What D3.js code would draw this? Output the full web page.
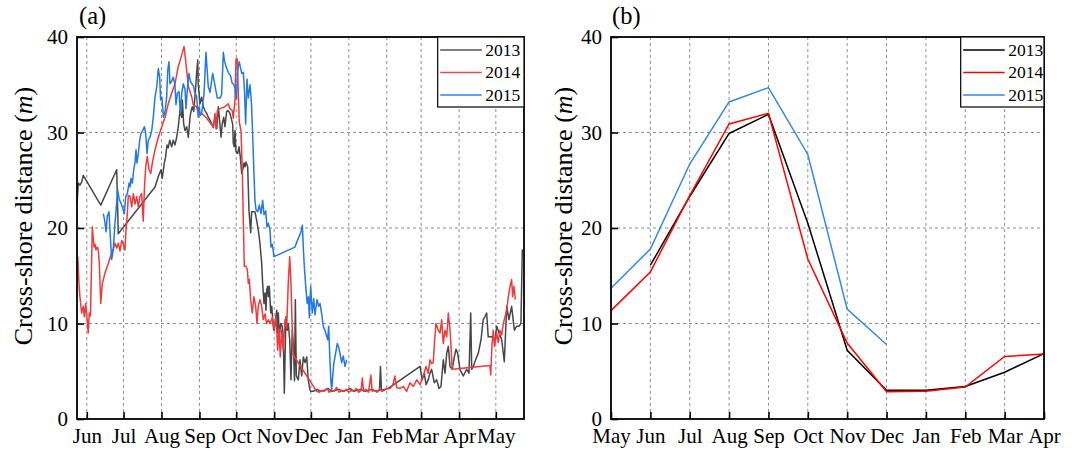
<!DOCTYPE html>
<html>
<head>
<meta charset="utf-8">
<script src="https://cdn.jsdelivr.net/npm/d3@7"></script>
<style>
  body { margin: 0; background: #fff; }
  svg text { font-family: "Liberation Serif", "Times New Roman", "DejaVu Serif", serif; fill: #000; }
</style>
</head>
<body>
<svg id="chart" width="1079" height="451"></svg>
<script>
// ---------- Panel (a): daily cross-shore distance, day counted from 24 May ----------
const seasonStart = Date.UTC(2013, 4, 24);
const seasonEnd = Date.UTC(2014, 4, 24);
const monthTicksA = [
  Date.UTC(2013, 5, 1), Date.UTC(2013, 6, 1), Date.UTC(2013, 7, 1), Date.UTC(2013, 8, 1),
  Date.UTC(2013, 9, 1), Date.UTC(2013, 10, 1), Date.UTC(2013, 11, 1), Date.UTC(2014, 0, 1),
  Date.UTC(2014, 1, 1), Date.UTC(2014, 2, 1), Date.UTC(2014, 3, 1), Date.UTC(2014, 4, 1)
];
const monthLabelsA = ["Jun", "Jul", "Aug", "Sep", "Oct", "Nov", "Dec", "Jan", "Feb", "Mar", "Apr", "May"];
const yTicks = [0, 10, 20, 30, 40];

const daily2013 = [
  [0,22.6],[1.1,24.7],[2.4,24.5],[3.8,24.8],[5.1,25.5],[19.4,22.4],[32.4,26.1],[33.7,19.4],
  [63.7,24.3],[66.4,25.4],[68.6,26.1],[69.6,25.2],[71.3,26.8],[72.4,27.5],[73.5,28.7],[74.5,28.4],
  [75.7,29.2],[77.3,28.5],[78.6,29.2],[80,28.7],[81.4,29.5],[82.7,30.6],[84.1,32.3],[85.5,31.6],
  [86,33.4],[87.1,30.9],[88.2,30.2],[89.6,30.6],[90.9,29.5],[92.3,31.6],[93.1,32.2],[94.1,32.7],
  [95.3,32.2],[96.3,33.7],[97.7,36.2],[98.6,37.6],[99,35.1],[100.4,33],[101.8,33.7],[103.1,32.7],
  [104.5,32.3],[105.9,32],[107.2,31.6],[108.6,31.3],[110,30.9],[111.3,30.6],[112.7,31.6],[114.1,30.4],
  [115.4,32.7],[116.2,31.6],[117.6,29.5],[118.6,30.9],[119.8,31.6],[120.8,30.6],[122.2,32.2],[123.5,32.3],
  [124.9,32],[127.1,30.9],[127.6,28.9],[128.4,28.5],[129,30.2],[129.8,28],[131.2,27.8],[132.3,28.5],
  [133.3,27.5],[134.5,25.7],[135.3,26.1],[136.4,26.8],[137.2,26.4],[138,26.9],[139.4,26.4],[140.4,21.9],
  [141.8,19.5],[142.6,21.7],[143.9,21.7],[145.3,21.7],[146.7,20.8],[148,19.8],[149.4,18.4],[150.8,16.3],
  [151.6,14.2],[152.7,12.1],[153.5,13.2],[154.3,11.4],[154.9,13.5],[155.7,13.9],[156.2,12.8],[157,13.9],
  [158.2,11.1],[159,11.8],[159.8,10.4],[160.6,9.3],[161.7,10],[163.1,11.4],[163.9,9],[164.4,11.1],
  [165.2,8.6],[166.3,10],[167.4,9.8],[168.4,8.6],[169.3,2.7],[169.8,5.9],[170.6,10.7],[171.7,9.3],
  [172.5,10],[173.7,8.3],[174.7,4.1],[175.8,9.3],[176.9,7.2],[177.6,4],[178.3,12.5],[179.1,4.5],
  [180.7,4.1],[182.1,6.2],[183.5,4.5],[184.8,6.5],[186.2,5.9],[187.6,6.5],[188.8,4.1],[190.2,3.1],
  [190.8,2.9],[193,2.9],[196,3.1],[199,2.9],[202,3],[205,3.2],[208,2.9],[211,3],[214,3.1],[217,2.9],
  [220,3],[223,3.2],[226,2.9],[229,3],[232,3.1],[235,2.9],[238,3],[241,3.1],[244,2.9],[247,3],
  [247.8,5.5],[248.6,3],[251,3.1],[254.2,3.2],[280.1,5.5],[281.9,4.1],[283.6,4.8],[285,3.6],
  [286.8,4.1],[288.2,4.8],[289.6,5.2],[291.7,3.8],[293.7,4.1],[295.6,3.2],[297.2,3.4],[299.1,6.2],
  [300.5,4.8],[301.9,6.9],[303.2,7.6],[304.6,5.5],[306.4,5.2],[308.1,6.5],[309.5,7.3],[310.8,6.9],
  [312.7,5.2],[315.4,4.5],[318.2,5.2],[320.1,4.8],[321.5,11.1],[322.3,5.2],[323.6,5.5],[325.5,6.2],
  [327.7,6.9],[329.9,8.3],[331.7,10.4],[333.1,10.7],[334.5,11.1],[335.8,8.6],[338.6,8.6],[341.3,8.3],
  [342.7,9.7],[344.6,9],[346.8,8.3],[348.9,6],[350.9,11.8],[352.7,10.4],[354.9,11.8],[357.1,9.3],
  [359,9.7],[360.9,9.7],[362.5,10],[363.6,17.7],[364.2,17.7]
];

const daily2014 = [
  [0.6,17],[1.6,14.2],[2.4,12.8],[3.8,11.1],[5.1,11.8],[6,10.7],[7.1,12.1],[8.2,10.5],[9.2,9],
  [10,11.1],[11,10.8],[12.5,20.1],[13.9,18],[14.7,18.3],[15.5,17.7],[16.6,18],[17.4,17.7],[18.2,16.3],
  [19.4,12.1],[20.7,14.2],[22.9,15.3],[25.6,16.3],[28.3,17.4],[29.6,17.8],[31,18.4],[32.4,17.9],
  [33.7,18.4],[35.1,17.6],[36.5,18.7],[37.8,18.3],[39.2,17.7],[40,19.8],[41.1,21.5],[41.9,23.4],
  [43.3,23.3],[44.7,22.2],[46,23.6],[47.4,22.5],[48.7,23.3],[50.1,22.2],[51.4,23.3],[52.8,23.6],
  [54.1,20.7],[55,24],[56.1,26.4],[57.4,27.5],[58.8,26.1],[60.2,25.7],[61.5,26.8],[63.7,28.2],
  [66.4,29.5],[69.2,30.6],[71.9,31.6],[74.5,33],[77.3,34.1],[80,35.1],[82.7,36.9],[85.5,38.1],
  [87.4,39],[89,37.2],[90.9,34.8],[92,34.4],[93.7,33.7],[95,32.9],[97.7,32.7],[99,32],[101.8,32],
  [105.9,31.5],[110,30.8],[111.3,30.5],[112.7,32],[113.5,30.4],[114.6,32.3],[116.8,32.5],[120.8,32.7],
  [123.5,33],[124.9,32.5],[126.8,32.3],[127.6,31.5],[129,33.4],[129.8,37.7],[130.9,37.7],[131.7,34.1],
  [132.5,31.1],[133.9,30.2],[135,26.1],[135.8,20.8],[136.6,16],[138,16],[139.1,15.6],[139.9,14.2],
  [140.7,14.6],[141.8,12.5],[143.1,11.1],[144.5,12.8],[145.9,11.8],[147,10],[148,11.8],[149.4,12.5],
  [150.8,11.8],[152.1,10.4],[153.5,11],[154.9,10],[156.2,10.4],[157.6,10],[159.5,10.6],[161.1,9.3],
  [162.5,10.7],[163.9,7.2],[164.9,9.5],[166,6.5],[167.1,9.3],[168.4,7.2],[169.8,10.4],[171.2,9.5],
  [172.5,14.2],[173.7,17],[174.7,14.2],[175.8,9.3],[176.6,6.7],[195.7,2.9],[198,2.8],[200,3],
  [202,2.9],[204,3.2],[206,2.8],[208,3],[210,2.9],[212,3.3],[214,2.8],[216,3],[218,2.9],[220,3.1],
  [222,2.8],[224,3],[226,2.9],[228,3.2],[230,2.8],[232,3],[233,4.3],[234,2.9],[236,3.1],[238,2.8],
  [240,4.6],[241,2.9],[243,3],[245,2.8],[247,3.1],[249,2.9],[251,3],[253,3.2],[255.6,3.2],[258,3.6],
  [259.6,4.5],[261,3.3],[263.7,3.2],[266.4,3.4],[269.2,2.9],[271.9,3.8],[274.6,3.4],[277.4,4.1],
  [280.1,3.6],[282.8,4.5],[285,5.5],[286.8,4.8],[288.2,6.2],[289.6,5.8],[290.9,5.9],[291.9,8],
  [293.1,10],[294.2,9.6],[295,9.3],[296.4,9],[297.8,10.4],[299.1,7.9],[300.5,9.3],[301.9,8.6],
  [303.2,11.1],[304.6,9.3],[305.1,8.3],[306.4,5.2],[337.2,5.6],[337.8,4.6],[338.8,7.6],[339.9,9.3],
  [340.9,7.6],[342.7,9],[344,8],[345.4,9.3],[346.8,8.8],[348.1,10],[349.5,10.7],[350.9,11.4],
  [352.2,12.8],[353.6,13.9],[354.9,14.6],[355.7,12.8],[356.8,13.9],[357.9,12.5]
];

const daily2015 = [
  [21.5,21.5],[22.6,20.8],[23.7,19.6],[24.7,21.2],[26.1,21.7],[26.9,19.8],[28.3,16.7],[29.6,17.7],
  [31,20.5],[32.4,22.6],[33.2,24],[34.5,23],[35.9,22.6],[37.3,22.1],[38.6,21.5],[39.8,23.3],
  [41.1,23.6],[42.5,24.7],[43.3,24.3],[44.1,25.2],[45.2,24.7],[46.3,26.1],[47.4,26.9],[48.2,28.2],
  [49,26.8],[50.1,27.8],[51.2,29.2],[52.3,29.9],[53.6,30.2],[55,30.6],[56.1,29.9],[57.2,27.8],
  [58.2,29.2],[59.6,29.5],[61,30.2],[62.3,31.6],[63.7,33.7],[65.1,34.8],[66.4,36.7],[67.5,35.8],
  [68.3,33.4],[69.4,33.7],[70.5,31.6],[71.9,32.2],[73.2,33.7],[74.1,36.5],[75.1,37.4],[75.9,35.1],
  [77.3,35.4],[78.6,35.8],[80,35],[80.8,32.9],[81.9,34.1],[83.3,34.3],[84.3,32],[85.5,34.1],
  [86.8,35.1],[88.2,34.5],[89,32.5],[90.1,34.5],[91.4,36.2],[92.5,35.4],[93.7,35.1],[95,34.9],
  [96.3,34.1],[97.7,33.8],[99,31.6],[99.8,32.7],[100.7,31.8],[101.8,32],[102.9,33.3],[103.7,34],
  [105.3,38.4],[107.2,34.8],[108.6,34.2],[110.8,36.2],[112.1,35.3],[113.1,34.6],[114.6,33.6],
  [116.8,33.6],[118.1,34],[119.5,38.4],[120.4,37.5],[121.7,36.9],[123.5,36.3],[125.5,35.9],
  [126.6,35.2],[127.6,35.1],[129,34.7],[130.2,33.5],[131.2,36.6],[132.5,37.4],[134.5,36.2],
  [135.8,36.3],[136.7,34.5],[137.7,30.9],[138.8,35.6],[139.9,33.6],[141.3,35],[142.5,33],
  [143.5,29.5],[144.5,25.7],[145.3,22.9],[146.2,21.9],[147.5,21.7],[148.9,22.4],[150.2,21.5],
  [151.6,22.9],[152.7,21.4],[154.1,21.8],[155.1,20.1],[156.2,20.5],[157.6,19.8],[158.4,18],
  [159.5,18.3],[160.8,17],[178,18],[179.7,18.6],[181.3,19.1],[182.9,19.6],[184,20.3],[184.8,18],
  [185.6,16],[187,13.5],[188,12.1],[189,12.8],[189.7,10.6],[190.8,13.9],[192.1,11.1],[193.3,12.6],
  [194.3,10.9],[196,12.5],[197.3,11.8],[198.4,12.1],[199.8,11],[201.1,9.7],[202.7,9.2],[204.7,8.3],
  [205.5,9.7],[206.6,5.9],[207.4,3.8],[208,3.1],[208.8,4.5],[209.8,5.9],[211.2,6.9],[212.5,7.9],
  [213.5,7.6],[214.7,6.9],[216.1,5.9],[217.4,6.6],[218.8,5.5],[220.2,6.2]
];

// ---------- Panel (b): monthly mean cross-shore distance ----------
const monthsB = ["May", "Jun", "Jul", "Aug", "Sep", "Oct", "Nov", "Dec", "Jan", "Feb", "Mar", "Apr"];
const monthly2013 = [null, 16.1, 23.3, 29.9, 31.9, 20.5, 7.2, 3.0, 3.0, 3.4, 4.9, 6.85];
const monthly2014 = [11.35, 15.4, 23.4, 30.9, 32.0, 16.75, 7.95, 2.85, 2.9, 3.35, 6.55, 6.8];
const monthly2015 = [13.7, 17.8, 26.7, 33.2, 34.7, 27.7, 11.5, 7.8, null, null, null, null];

const seriesNames = ["2013", "2014", "2015"];
const colorsA = ["#474747", "#f0393c", "#2478e2"];
const colorsB = ["#000000", "#ff0000", "#3586e6"];

const svg = d3.select("#chart");
const gridColor = "#8f8f8f";
const panel = { top: 37, bottom: 419 };
const boxA = { left: 77, right: 524 };
const boxB = { left: 611, right: 1044 };
const serif = "Liberation Serif, Times New Roman, DejaVu Serif, serif";

function frame(g, box) {
  g.append("rect")
    .attr("x", box.left).attr("y", panel.top)
    .attr("width", box.right - box.left).attr("height", panel.bottom - panel.top)
    .attr("fill", "none").attr("stroke", "#000").attr("stroke-width", 1.8);
}

function yAxisAndGrid(g, box, y) {
  // dashed horizontal grid
  g.append("g").selectAll("line").data(yTicks.filter(t => t > 0 && t < 40)).join("line")
    .attr("x1", box.left).attr("x2", box.right)
    .attr("y1", d => y(d)).attr("y2", d => y(d))
    .attr("stroke", gridColor).attr("stroke-width", 1).attr("stroke-dasharray", "3,3");
  const ax = g.append("g").attr("transform", `translate(${box.left},0)`)
    .call(d3.axisLeft(y).tickValues(yTicks).tickSize(-7).tickPadding(9).tickFormat(d3.format("d")));
  ax.select(".domain").remove();
  ax.selectAll(".tick line").attr("stroke", "#000").attr("stroke-width", 1.6);
  ax.selectAll("text").attr("font-size", 21).attr("font-family", serif).attr("fill", "#000");
}

function yTitle(g, x) {
  const t = g.append("text")
    .attr("transform", `translate(${x},216) rotate(-90)`)
    .attr("text-anchor", "middle").attr("font-size", 26);
  t.append("tspan").text("Cross-shore distance (");
  t.append("tspan").attr("font-style", "italic").text("m");
  t.append("tspan").text(")");
}

function legend(g, x0, x1, colors) {
  const lg = g.append("g");
  lg.append("rect").attr("x", x0).attr("y", panel.top).attr("width", x1 - x0).attr("height", 70)
    .attr("fill", "#fff").attr("stroke", "#000").attr("stroke-width", 1.2);
  seriesNames.forEach((n, i) => {
    const cy = 50 + i * 22.5;
    lg.append("line").attr("x1", x0 + 2.5).attr("x2", x0 + 44).attr("y1", cy).attr("y2", cy)
      .attr("stroke", colors[i]).attr("stroke-width", 1.6);
    lg.append("text").attr("x", x0 + 47.5).attr("y", cy).attr("dy", "0.34em")
      .attr("font-size", 17.5).text(n);
  });
}

// ---------- Panel (a) ----------
const gA = svg.append("g");
const xA = d3.scaleUtc().domain([seasonStart, seasonEnd]).range([boxA.left, boxA.right]);
const yA = d3.scaleLinear().domain([0, 40]).range([panel.bottom, panel.top]);
const dayToDate = d => new Date(seasonStart + d * 864e5);

gA.append("g").selectAll("line").data(monthTicksA).join("line")
  .attr("x1", d => xA(d)).attr("x2", d => xA(d))
  .attr("y1", panel.top).attr("y2", panel.bottom)
  .attr("stroke", gridColor).attr("stroke-width", 1).attr("stroke-dasharray", "3,3");
yAxisAndGrid(gA, boxA, yA);

const axA = gA.append("g").attr("transform", `translate(0,${panel.bottom})`)
  .call(d3.axisBottom(xA).tickValues(monthTicksA.map(t => new Date(t)))
    .tickSize(-7).tickPadding(9).tickFormat((d, i) => monthLabelsA[i]));
axA.select(".domain").remove();
axA.selectAll(".tick line").attr("stroke", "#000").attr("stroke-width", 1.6);
axA.selectAll("text").attr("font-size", 21).attr("font-family", serif)
  .attr("fill", (d, i) => i === 0 ? "#7a7a7a" : "#000");

const lineA = d3.line().x(d => xA(dayToDate(d[0]))).y(d => yA(d[1]));
[daily2013, daily2014, daily2015].forEach((s, i) => {
  gA.append("path").datum(s).attr("d", lineA)
    .attr("fill", "none").attr("stroke", colorsA[i]).attr("stroke-width", 1.5)
    .attr("stroke-linejoin", "round");
});
frame(gA, boxA);
legend(gA, 437.7, boxA.right, ["#555555", "#f44848", "#2e82e8"]);
yTitle(gA, 32);
gA.append("text").attr("x", 79).attr("y", 24).attr("font-size", 24.5).text("(a)");

// ---------- Panel (b) ----------
const gB = svg.append("g");
const xB = d3.scalePoint().domain(monthsB).range([boxB.left, boxB.right]).padding(0);
const yB = d3.scaleLinear().domain([0, 40]).range([panel.bottom, panel.top]);

gB.append("g").selectAll("line").data(monthsB.slice(1, -1)).join("line")
  .attr("x1", d => xB(d)).attr("x2", d => xB(d))
  .attr("y1", panel.top).attr("y2", panel.bottom)
  .attr("stroke", gridColor).attr("stroke-width", 1).attr("stroke-dasharray", "3,3");
yAxisAndGrid(gB, boxB, yB);

const axB = gB.append("g").attr("transform", `translate(0,${panel.bottom})`)
  .call(d3.axisBottom(xB).tickSize(-7).tickPadding(9));
axB.select(".domain").remove();
axB.selectAll(".tick line").attr("stroke", "#000").attr("stroke-width", 1.6);
axB.selectAll("text").attr("font-size", 21).attr("font-family", serif).attr("fill", "#000");

const lineB = d3.line().defined(d => d.v != null).x(d => xB(d.m)).y(d => yB(d.v));
[monthly2013, monthly2014, monthly2015].forEach((s, i) => {
  gB.append("path").datum(s.map((v, j) => ({ m: monthsB[j], v })))
    .attr("d", lineB).attr("fill", "none").attr("stroke", colorsB[i]).attr("stroke-width", 1.5);
});
frame(gB, boxB);
legend(gB, 960.7, boxB.right, colorsB);
yTitle(gB, 572);
gB.append("text").attr("x", 612).attr("y", 24).attr("font-size", 24.5).text("(b)");
</script>
</body>
</html>
